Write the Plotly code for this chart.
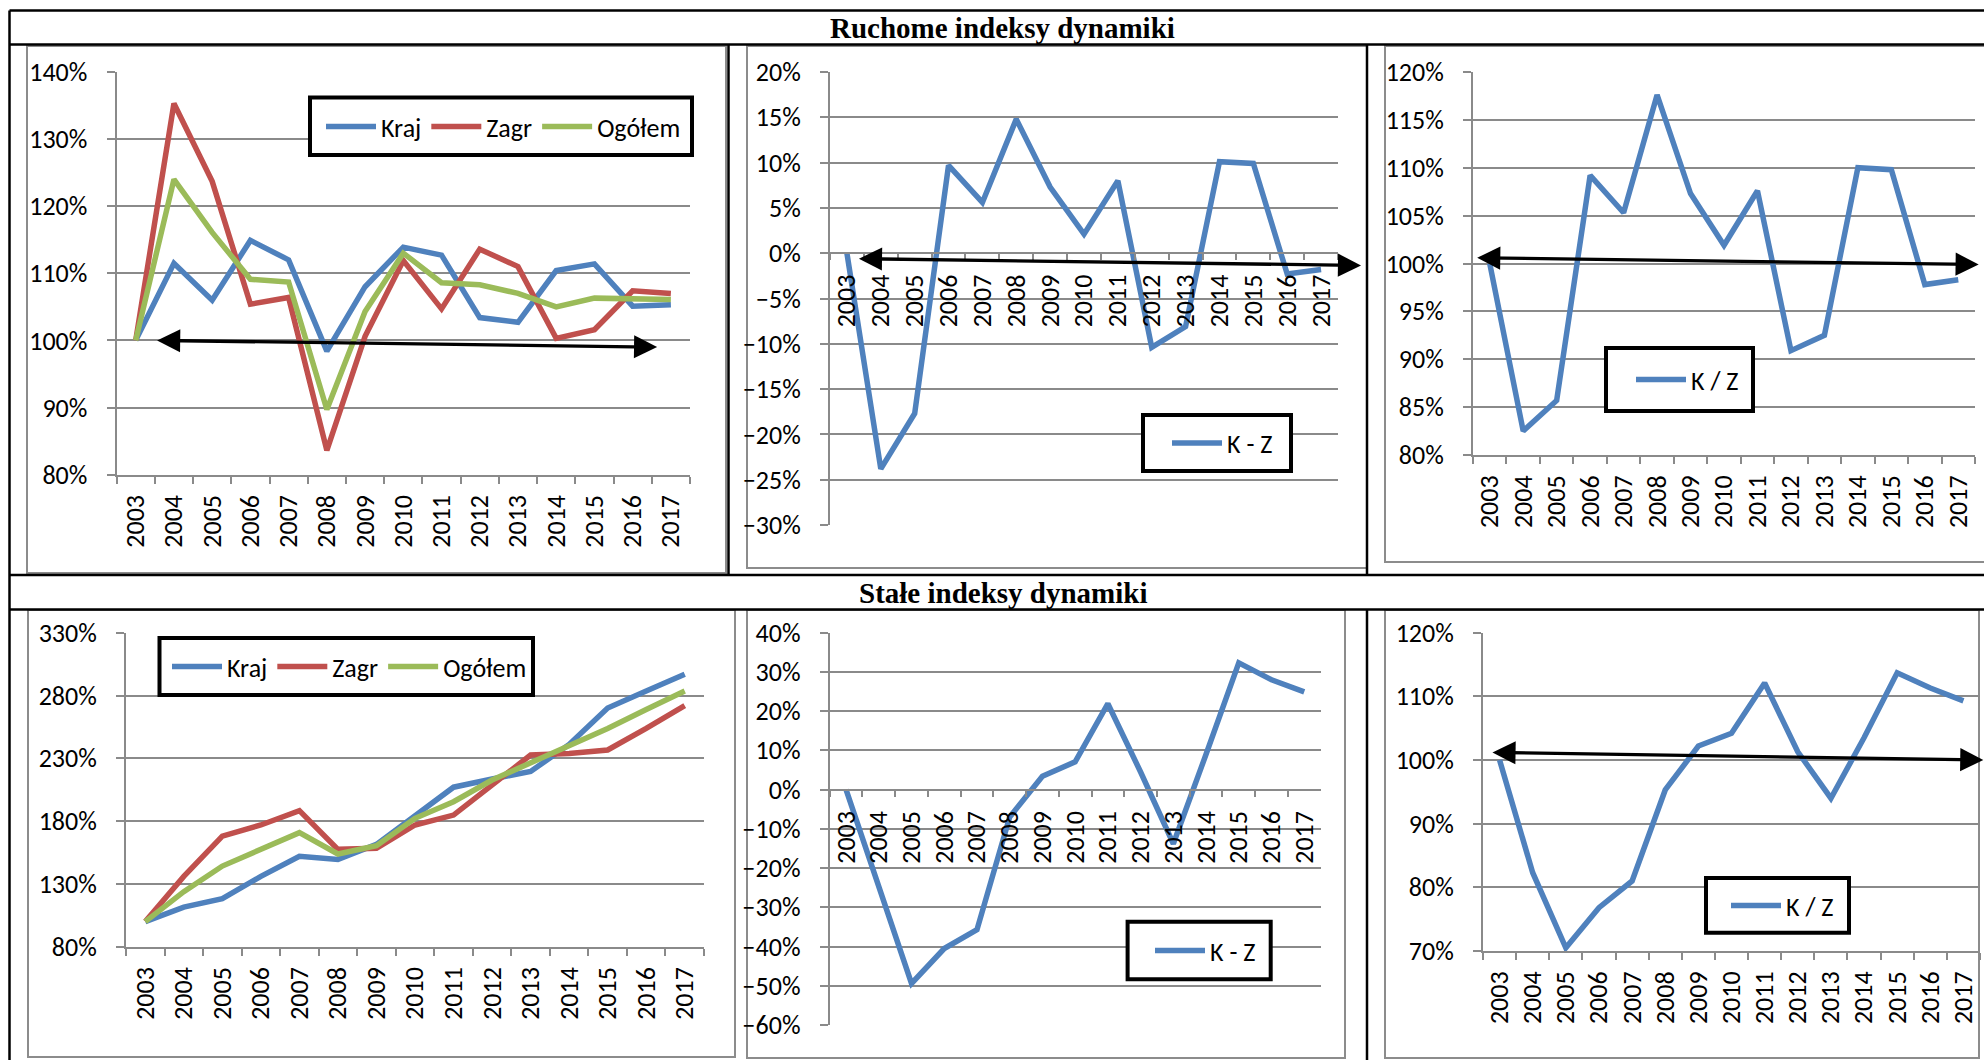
import plotly.graph_objects as go

W, H = 1984, 1060

years = ['2003', '2004', '2005', '2006', '2007', '2008', '2009', '2010',
         '2011', '2012', '2013', '2014', '2015', '2016', '2017']

# Ruchome indeksy dynamiki (rok poprzedni = 100%)
ruch_kraj = [100.0, 111.5, 106.0, 114.9, 112.0, 98.4, 108.0, 113.9, 112.7, 103.4, 102.7, 110.4, 111.4, 105.1, 105.3]
ruch_zagr = [100.0, 135.3, 123.7, 105.4, 106.4, 83.6, 100.6, 111.9, 104.7, 113.6, 111.0, 100.3, 101.6, 107.4, 107.0]
ruch_ogolem = [100.0, 124.0, 116.1, 109.1, 108.7, 89.7, 104.3, 113.0, 108.6, 108.3, 107.0, 105.0, 106.3, 106.1, 106.1]
ruch_k_minus_z = [0.0, -23.8, -17.7, 9.7, 5.6, 14.8, 7.3, 2.1, 8.0, -10.4, -8.1, 10.1, 9.9, -2.3, -1.8]
ruch_k_przez_z = [100.0, 82.5, 85.7, 109.2, 105.3, 117.6, 107.3, 101.9, 107.6, 90.9, 92.5, 110.0, 109.8, 97.8, 98.3]

# Stale indeksy dynamiki (2003 = 100%)
stale_kraj = [100.0, 111.5, 118.3, 136.0, 152.0, 149.5, 161.5, 184.5, 207.0, 213.5, 219.5, 241.0, 270.0, 283.5, 297.0]
stale_zagr = [100.0, 136.0, 168.0, 176.9, 188.3, 157.5, 158.3, 176.9, 184.8, 208.7, 232.6, 233.9, 236.6, 253.8, 271.9]
stale_ogolem = [100.0, 123.8, 144.2, 157.5, 170.8, 153.8, 160.4, 182.2, 195.4, 212.7, 226.5, 239.2, 253.8, 268.9, 283.5]
stale_k_minus_z = [0.0, -24.5, -49.4, -40.5, -35.7, -7.0, 3.4, 7.1, 21.9, 4.5, -13.8, 9.0, 32.3, 28.0, 24.9]
stale_k_przez_z = [100.0, 82.3, 70.5, 76.8, 81.0, 95.3, 102.2, 104.2, 112.1, 101.3, 94.0, 103.5, 113.7, 111.3, 109.3]

# trend arrows drawn by hand in the source: (category index, value) at both ends
arrow_p1 = [(0.52, 100.0), (13.64, 99.0)]
arrow_p2 = [(0.31, -0.6), (15.18, -1.35)]
arrow_p3 = [(-0.42, 100.6), (14.61, 99.9)]
arrow_p5 = [(-0.54, 1.36), (14.8, -0.6)]
arrow_p6 = [(-0.26, 101.2), (14.6, 100.0)]

BLUE, RED, GREEN = '#4F81BD', '#C0504D', '#9BBB59'
GRID = '#8A8A8A'
FONT = dict(family='Carlito, Lato, sans-serif', size=26, color='black')


def fx(p):
    return p / W


def fy(p):
    return 1 - p / H


# layout of the six panels (pixel positions of plot area, legend box etc.)
panels = [
    dict(area=(116.6, 72, 690, 474.6), yr=[80, 140], dt=10, cross0=False,
         series=[('Kraj', ruch_kraj, BLUE), ('Zagr', ruch_zagr, RED), ('Ogółem', ruch_ogolem, GREEN)],
         box=(310, 97.6, 692, 155), leg=(321, 126.5), arrow=arrow_p1),
    dict(area=(830, 72, 1338, 525), yr=[-30, 20], dt=5, cross0=True,
         series=[('K - Z', ruch_k_minus_z, BLUE)],
         box=(1143, 415, 1291, 471), leg=(1167, 443), arrow=arrow_p2),
    dict(area=(1473, 72, 1975, 455), yr=[80, 120], dt=5, cross0=False,
         series=[('K / Z', ruch_k_przez_z, BLUE)],
         box=(1606, 348, 1753, 411), leg=(1631, 379.5), arrow=arrow_p3),
    dict(area=(126, 632.7, 704, 946.7), yr=[80, 330], dt=50, cross0=False,
         series=[('Kraj', stale_kraj, BLUE), ('Zagr', stale_zagr, RED), ('Ogółem', stale_ogolem, GREEN)],
         box=(159.5, 638, 533, 695), leg=(167, 666.5), arrow=None),
    dict(area=(829.7, 632.7, 1320.6, 1025), yr=[-60, 40], dt=10, cross0=True,
         series=[('K - Z', stale_k_minus_z, BLUE)],
         box=(1127.6, 921.7, 1270.7, 979.3), leg=(1150, 950.5), arrow=arrow_p5),
    dict(area=(1483, 632.7, 1980, 951), yr=[70, 120], dt=10, cross0=False,
         series=[('K / Z', stale_k_przez_z, BLUE)],
         box=(1706, 878, 1849, 932.7), leg=(1726, 905.5), arrow=arrow_p6),
]

# gray chart-area frames
frames = [
    (27, 46, 726, 573), (747, 46, 1367, 568), (1385, 46, 2000, 562),
    (28, 610, 735, 1057), (747, 610, 1345, 1058), (1385, 610, 1979, 1058),
]

fig = go.Figure()
shapes = []
annotations = []
layout = {}

for i, p in enumerate(panels, start=1):
    sfx = '' if i == 1 else str(i)
    x0, y0, x1, y1 = p['area']
    ymin, ymax = p['yr']

    xa = dict(domain=[fx(x0), fx(x1)], type='category', range=[-0.5, 14.5],
              tickson='boundaries', ticks='outside', ticklen=7, tickwidth=1.8,
              tickcolor=GRID, showline=True, linecolor=GRID, linewidth=2,
              showgrid=False, tickangle=-90, tickfont=FONT, anchor='y' + sfx,
              ticklabelstandoff=8, automargin=False, fixedrange=True)
    if p['cross0']:
        zero_px = y0 + ymax / (ymax - ymin) * (y1 - y0)
        xa.update(anchor='free', position=fy(zero_px), ticklen=6, ticklabelstandoff=10)
    ya = dict(domain=[fy(y1), fy(y0)], range=[ymin, ymax], dtick=p['dt'], tick0=ymin,
              ticksuffix='%', showgrid=True, gridcolor=GRID, gridwidth=2,
              zeroline=False, ticks='outside', ticklen=8, tickwidth=1.8,
              tickcolor=GRID, showline=True, linecolor=GRID, linewidth=2,
              tickfont=FONT, anchor='x' + sfx, ticklabelstandoff=14,
              automargin=False, fixedrange=True)
    layout['xaxis' + sfx] = xa
    layout['yaxis' + sfx] = ya

    for name, vals, color in p['series']:
        fig.add_trace(go.Scatter(
            x=years, y=vals, name=name, mode='lines',
            line=dict(color=color, width=5.5),
            xaxis='x' + sfx, yaxis='y' + sfx, legend='legend' + sfx,
            hoverinfo='skip'
        ))

    bx0, by0, bx1, by1 = p['box']
    shapes.append(dict(type='rect', xref='paper', yref='paper',
                       x0=fx(bx0), x1=fx(bx1), y0=fy(by1), y1=fy(by0),
                       line=dict(color='black', width=4), fillcolor='white', layer='above'))
    lx, ly = p['leg']
    layout['legend' + sfx] = dict(x=fx(lx), y=fy(ly), xanchor='left', yanchor='middle',
                                  orientation='h', bgcolor='rgba(0,0,0,0)', borderwidth=0,
                                  itemwidth=50, font=FONT, itemclick=False,
                                  itemdoubleclick=False)

    if p['arrow'] is not None:
        (ax0, ay0), (ax1, ay1) = p['arrow']
        annotations.append(dict(
            x=ax1, y=ay1, ax=ax0, ay=ay0, xref='x' + sfx, yref='y' + sfx,
            axref='x' + sfx, ayref='y' + sfx, text='', showarrow=True,
            arrowhead=2, startarrowhead=2, arrowside='end+start',
            arrowsize=1.4, startarrowsize=1.4, arrowwidth=3.3, arrowcolor='black',
            font=dict(size=1)
        ))

for fx0, fy0, fx1, fy1 in frames:
    shapes.append(dict(type='rect', xref='paper', yref='paper',
                       x0=fx(fx0), x1=fx(fx1), y0=fy(fy1), y1=fy(fy0),
                       line=dict(color='#8C8C8C', width=2), layer='below'))

# black table rules
for y in [10.5, 44.5, 575, 609.5]:
    shapes.append(dict(type='line', xref='paper', yref='paper',
                       x0=fx(9.5), x1=1, y0=fy(y), y1=fy(y),
                       line=dict(color='black', width=2.5), layer='above'))
for x, ya_, yb_ in [(9.5, 10.5, 1060), (728.5, 44.5, 575), (1367, 44.5, 575), (1367, 609.5, 1060)]:
    shapes.append(dict(type='line', xref='paper', yref='paper',
                       x0=fx(x), x1=fx(x), y0=fy(ya_), y1=fy(yb_),
                       line=dict(color='black', width=2.5), layer='above'))

title_font = dict(family='Liberation Serif, Times New Roman, serif', size=29,
                  color='black', weight='bold')
annotations.append(dict(text='Ruchome indeksy dynamiki', x=fx(1003), y=fy(28),
                        xref='paper', yref='paper', xanchor='center', yanchor='middle',
                        showarrow=False, font=title_font))
annotations.append(dict(text='Stałe indeksy dynamiki', x=fx(1003), y=fy(593),
                        xref='paper', yref='paper', xanchor='center', yanchor='middle',
                        showarrow=False, font=title_font))

fig.update_layout(
    width=W, height=H,
    margin=dict(l=0, r=0, t=0, b=0, pad=0, autoexpand=False),
    paper_bgcolor='white', plot_bgcolor='rgba(0,0,0,0)',
    showlegend=True, hovermode=False,
    shapes=shapes, annotations=annotations,
    **layout
)

# the default page keeps an 8px body margin; drop it so the figure sits at 0,0
fig.write_html("out.html", config={'displayModeBar': False},
               post_script="document.body.style.margin='0px';")
